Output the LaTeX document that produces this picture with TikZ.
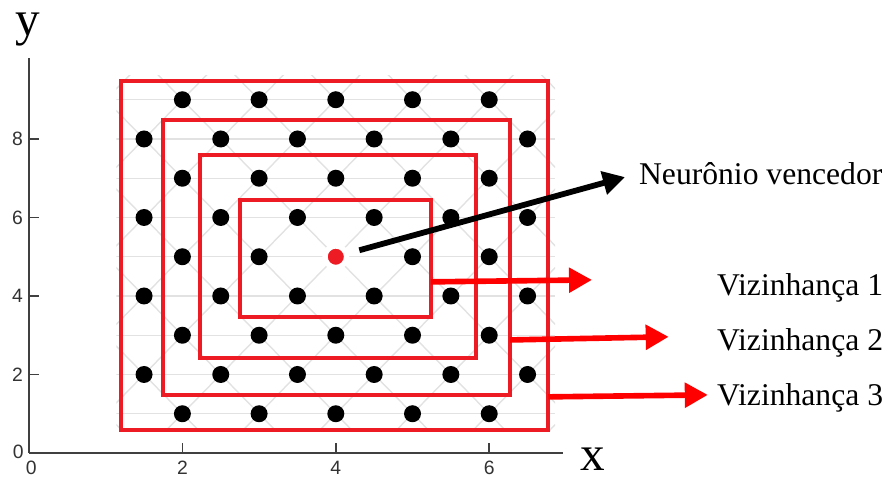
\documentclass[tikz,border=0pt]{standalone}
\usepackage{fontspec}
\setmainfont{Liberation Serif}
\newfontfamily\tickfont{Liberation Sans}
\usetikzlibrary{arrows.meta}
\definecolor{zonered}{RGB}{237,28,36}
\definecolor{latticegray}{RGB}{226,226,226}
\definecolor{axisgray}{RGB}{64,64,64}
\tikzset{
  zone/.style={draw=zonered, line width=2.5pt},
  latticeline/.style={draw=latticegray, line width=0.8pt},
  neuron/.style={fill=black},
  winner/.style={circle, fill=zonered, draw=white, line width=3pt, minimum size=0.43cm, inner sep=0pt},
  axisline/.style={draw=axisgray, line width=0.9pt},
  ticklabel/.style={font=\tickfont\fontsize{11}{13}\selectfont, text=black!80, inner sep=0pt},
  pointer/.style={line width=3.3pt, draw=black, -{Triangle[length=0.44cm, width=0.46cm]}},
  zonepointer/.style={line width=3.2pt, draw=red, color=red, -{Triangle[length=0.46cm, width=0.48cm]}},
  zonelabel/.style={font=\fontsize{18}{20}\selectfont, inner sep=0pt},
  axislabel/.style={font=\fontsize{28}{30}\selectfont, inner sep=0pt},
}
\begin{document}
\begin{tikzpicture}[x=1.534cm, y=0.785cm]
\useasboundingbox (-0.58cm,-0.48cm) rectangle (17.2cm,9.06cm);
\begin{scope}
\clip (1.14,0.55) rectangle (6.86,9.63);
\foreach \r in {1,...,9} \draw[latticeline] (1.14,\r) -- (6.86,\r);
\foreach \c in {-4.5,-3.5,...,7.5} \draw[latticeline] (\c,0) -- ++(5,10);
\foreach \c in {1.5,2.5,...,12.5} \draw[latticeline] (\c,0) -- ++(-5,10);
\end{scope}
\foreach \r in {1,3,7,9} \foreach \c in {2,...,6} \fill[neuron] (\c,\r) circle (0.17cm);
\foreach \c in {2,3,5,6} \fill[neuron] (\c,5) circle (0.17cm);
\foreach \r in {2,4,6,8} \foreach \c in {1.5,2.5,...,6.5} \fill[neuron] (\c,\r) circle (0.17cm);
\draw[zone] (1.20,0.59) rectangle (6.77,9.48);
\draw[zone] (1.75,1.48) rectangle (6.27,8.48);
\draw[zone] (2.23,2.42) rectangle (5.83,7.59);
\draw[zone] (2.75,3.46) rectangle (5.24,6.45);
\node[winner] (win) at (4,5) {};
\draw[axisline] (0,0) -- (0,10.06);
\draw[axisline] (0,0) -- (6.96,0);
\foreach \t in {2,4,6,8} \draw[axisline] (0,\t) -- ++(0.2cm,0);
\foreach \t in {2,4,6} \draw[axisline] (\t,0) -- ++(0,0.2cm);
\foreach \t in {2,4,6,8} \node[ticklabel] (ytick\t) at (-0.15,\t) {\t};
\node[ticklabel] (ytick0) at (-0.14,0.04) {0};
\foreach \t in {2,4,6} \node[ticklabel] (xtick\t) at (\t,-0.37) {\t};
\node[ticklabel] (xtick0) at (0.03,-0.37) {0};
\node[axislabel] (ylabel) at (-0.01,10.78) {y};
\node[axislabel] (xlabel) at (7.35,-0.15) {x};
\node[zonelabel, anchor=base west] (winlabel) at (7.95,6.83) {Neurônio vencedor};
\node[zonelabel, anchor=base east] (v1label) at (11.14,4.0) {Vizinhança 1};
\node[zonelabel, anchor=base east] (v2label) at (11.14,2.62) {Vizinhança 2};
\node[zonelabel, anchor=base east] (v3label) at (11.14,1.22) {Vizinhança 3};
\coordinate (wintip) at (7.77,7.03);
\coordinate (v1from) at (5.24,4.36);
\coordinate (v1tip) at (7.34,4.41);
\coordinate (v2from) at (6.27,2.88);
\coordinate (v2tip) at (8.34,2.96);
\coordinate (v3from) at (6.77,1.43);
\coordinate (v3tip) at (8.85,1.48);
\draw[pointer, shorten <=0.22cm] (win) -- (wintip);
\draw[zonepointer] (v1from) -- (v1tip);
\draw[zonepointer] (v2from) -- (v2tip);
\draw[zonepointer] (v3from) -- (v3tip);
\end{tikzpicture}
\end{document}
